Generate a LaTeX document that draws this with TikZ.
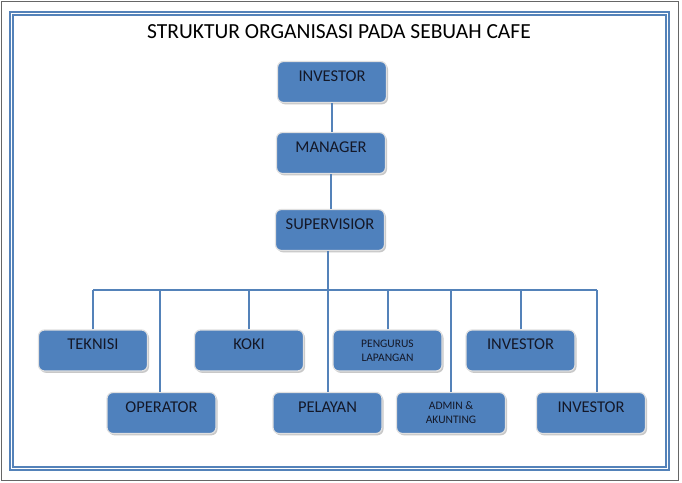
\documentclass[tikz,border=0pt]{standalone}
\usepackage{fontspec}
\setmainfont{Carlito}
\usepackage{xcolor}
\usepackage{tikz}
\usetikzlibrary{positioning,shadows}
\definecolor{boxblue}{RGB}{79,129,189}
\definecolor{lineblue}{RGB}{84,130,185}
\definecolor{txt}{RGB}{20,24,40}

\begin{document}
\begin{tikzpicture}[x=1pt, y=-1pt,
  box/.style={draw=white!88!black, line width=1.2pt, rounded corners=6pt, fill=boxblue,
    minimum width=109pt, minimum height=41pt, inner ysep=0pt, align=center, text=txt,
    drop shadow={shadow xshift=1.5pt, shadow yshift=-1.8pt, fill=black!30, opacity=0.7}},
  onebox/.style={box, font=\fontsize{16.5}{19}\selectfont, text height=19.5pt, text depth=21.5pt},
  twobox/.style={box, font=\fontsize{11.5}{14}\selectfont},
  link/.style={draw=lineblue, line width=2pt}]
  \useasboundingbox (0,0) rectangle (682,482);
  \fill[white] (0,0) rectangle (682,482);
  \draw[black!60, line width=1pt] (1,1) rectangle (678,480);
  \draw[lineblue, line width=1.2pt] (10,12) rectangle (669,470);
  \draw[lineblue, line width=1.2pt] (13,15) rectangle (666,467);
  \node[font=\fontsize{21.5}{26}\selectfont] (title) at (339,32) {STRUKTUR ORGANISASI PADA SEBUAH CAFE};
  % top column
  \node[onebox] (inv) at (332,82) {INVESTOR};
  \node[onebox] (mgr) at (331,153) {MANAGER};
  \node[onebox] (sup) at (330,230) {SUPERVISIOR};
  % first row
  \node[onebox] (teknisi) at (93,350.5) {TEKNISI};
  \node[onebox] (koki) at (249,350.5) {KOKI};
  \node[twobox] (pengurus) at (387.5,350.5) {PENGURUS\\LAPANGAN};
  \node[onebox] (invA) at (520.5,350.5) {INVESTOR};
  % second row
  \node[onebox] (operator) at (161.5,413) {OPERATOR};
  \node[onebox] (pelayan) at (327.5,413) {PELAYAN};
  \node[twobox] (admin) at (451,413) {ADMIN \&\\AKUNTING};
  \node[onebox] (invB) at (591,413) {INVESTOR};
  \coordinate (bus) at (0,290);
  \draw[link] (inv.south) -- (inv.south |- mgr.north);
  \draw[link] (mgr.south) -- (mgr.south |- sup.north);
  \draw[link] (pelayan.north |- sup.south) -- (pelayan.north);
  \draw[link] (teknisi.north |- bus) -- ([xshift=6pt]invB.north |- bus);
  \draw[link] (teknisi.north) -- (teknisi.north |- bus);
  \draw[link] ([xshift=-1.5pt]operator.north) -- ([xshift=-1.5pt]operator.north |- bus);
  \draw[link] (koki.north) -- (koki.north |- bus);
  \draw[link] (pengurus.north) -- (pengurus.north |- bus);
  \draw[link] (admin.north) -- (admin.north |- bus);
  \draw[link] (invA.north) -- (invA.north |- bus);
  \draw[link] ([xshift=6pt]invB.north) -- ([xshift=6pt]invB.north |- bus);
\end{tikzpicture}
\end{document}
